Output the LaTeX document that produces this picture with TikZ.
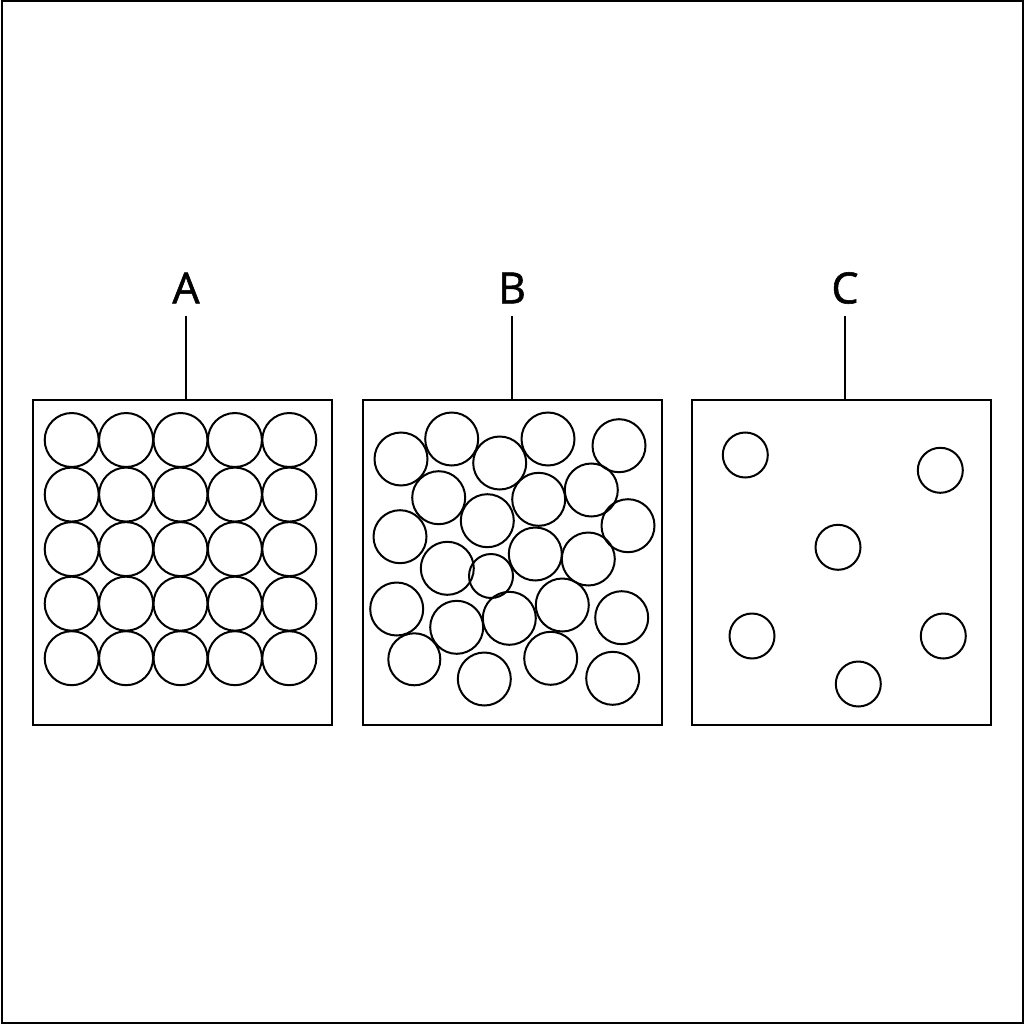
\documentclass[tikz,border=0pt]{standalone}
\usepackage{fontspec}
\setmainfont{Open Sans}
\newfontfamily\labfont{Open Sans}[FakeBold=1.3]
\begin{document}
\begin{tikzpicture}[x=1pt,y=-1pt,
  frame/.style={draw=black,line width=1.8pt,rectangle,minimum width=299pt,minimum height=325pt,inner sep=0pt,anchor=north west},
  lab/.style={inner sep=12pt,font=\labfont\fontsize{43}{43}\selectfont},
  conn/.style={line width=1.8pt},
  ball/.style={line width=2pt}]
\useasboundingbox (0,0) rectangle (1024,1024);
\fill[white] (0,0) rectangle (1024,1024);
\draw[line width=2pt] (1.5,1.5) rectangle (1022.5,1022.5);
% boxes
\node[frame] (bA) at (32,399) {};
\node[frame] (bB) at (362,399) {};
\node[frame] (bC) at (691,399) {};
% labels
\node[lab] (lA) at (186,288) {A};
\node[lab] (lB) at (512,288) {B};
\node[lab] (lC) at (845,288) {C};
\draw[conn] (lA.south) -- (lA.south |- bA.north);
\draw[conn] (lB.south) -- (lB.south |- bB.north);
\draw[conn] (lC.south) -- (lC.south |- bC.north);
% A: regular grid
\foreach \i in {0,...,4}{
  \foreach \j in {0,...,4}{
    \draw[ball] (71.7+54.4*\i,440+54.55*\j) circle (27);
  }
}
% B: random packing
\foreach \x/\y/\r in {
  401/459/26.5, 451.7/439/26.5, 499.7/463/26.5, 548/439/26.5, 619/445.7/26.5,
  438.7/497.7/26.5, 538.7/499.3/26.5, 591.3/490/26.5, 487.3/520.7/26.5, 628/525.7/26.5,
  400/536.7/26.5, 535.3/554/26.5, 588.3/559/26.5, 447.3/568.3/26.5, 491/576/22,
  562.3/605/26.5, 456.7/627.3/26.5, 509.3/618.3/26.5, 396.7/609/26.5, 621.7/617.7/26.5,
  414.3/659.3/26, 550.7/658.3/26.5, 484.3/679/26.5, 612.7/678.3/26.5}{
  \draw[ball] (\x,\y) circle (\r);
}
% C: sparse
\foreach \x/\y in {745.3/455, 940.3/470.3, 838/547.3, 752/636, 943.3/636, 858.3/684}{
  \draw[ball] (\x,\y) circle (22.5);
}
\end{tikzpicture}
\end{document}
